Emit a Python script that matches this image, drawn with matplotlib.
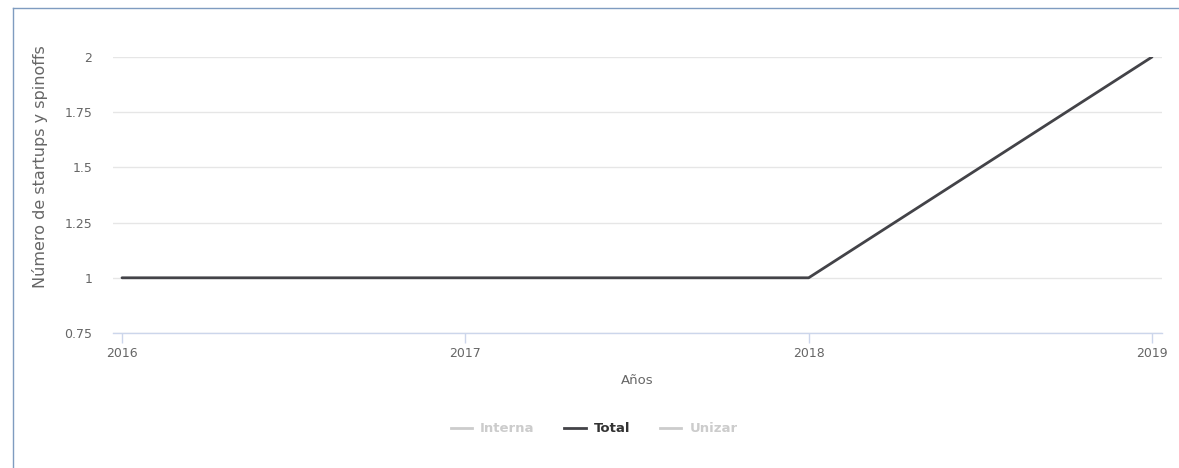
import matplotlib.pyplot as plt
from matplotlib.lines import Line2D

plt.rcParams['font.family'] = ['DejaVu Sans']

years = [2016, 2017, 2018, 2019]
total = [1, 1, 1, 2]
series_names = ["Interna", "Total", "Unizar"]
series_colors = ["#cccccc", "#434348", "#cccccc"]
text_colors = ["#cccccc", "#333333", "#cccccc"]
y_ticks = [0.75, 1, 1.25, 1.5, 1.75, 2]
y_tick_labels = ["0.75", "1", "1.25", "1.5", "1.75", "2"]

W, H = 1179, 468
fig = plt.figure(figsize=(W / 100, H / 100), dpi=100)
ax = fig.add_axes([113 / W, 1 - 333 / H, (1162 - 113) / W, (333 - 57) / H])

ax.plot(years, total, color="#434348", lw=2, solid_capstyle="round", zorder=3)

ax.set_xlim(2016 - 9 / 343.3, 2019 + 10 / 343.3)
ax.set_ylim(0.75, 2)
ax.set_yticks(y_ticks)
ax.set_yticklabels(y_tick_labels)
ax.set_xticks(years)
ax.set_xticklabels([str(y) for y in years])
ax.grid(axis="y", color="#e6e6e6", lw=1)
ax.set_axisbelow(True)

for s in ["top", "right", "left"]:
    ax.spines[s].set_visible(False)
ax.spines["bottom"].set_color("#ccd6eb")
ax.spines["bottom"].set_linewidth(1)
ax.tick_params(axis="y", length=0, pad=15, labelsize=9, labelcolor="#666666")
ax.tick_params(axis="x", length=7, width=1, color="#ccd6eb", pad=3,
               labelsize=9, labelcolor="#666666")

ax.set_xlabel("Años", fontsize=9.5, color="#666666", labelpad=10)
fig.text(40 / W, 1 - 167 / H, "Número de startups y spinoffs", rotation=90,
         ha="center", va="center", fontsize=11.5, color="#666666")

handles = [Line2D([], [], color=c, lw=2) for c in series_colors]
leg = fig.legend(handles, series_names, loc="center", ncol=3,
                 bbox_to_anchor=(594 / W, 1 - 429 / H), frameon=False,
                 handlelength=1.6, handletextpad=0.6, columnspacing=2.3,
                 prop={"size": 9.5, "weight": "bold"})
for txt, c in zip(leg.get_texts(), text_colors):
    txt.set_color(c)

# outer frame (top and left edges visible)
fig.add_artist(Line2D([13 / W, 1], [1 - 8 / H, 1 - 8 / H], color="#7f9cc0", lw=1))
fig.add_artist(Line2D([13 / W, 13 / W], [0, 1 - 8 / H], color="#7f9cc0", lw=1))

fig.savefig("out.png", dpi=100)
